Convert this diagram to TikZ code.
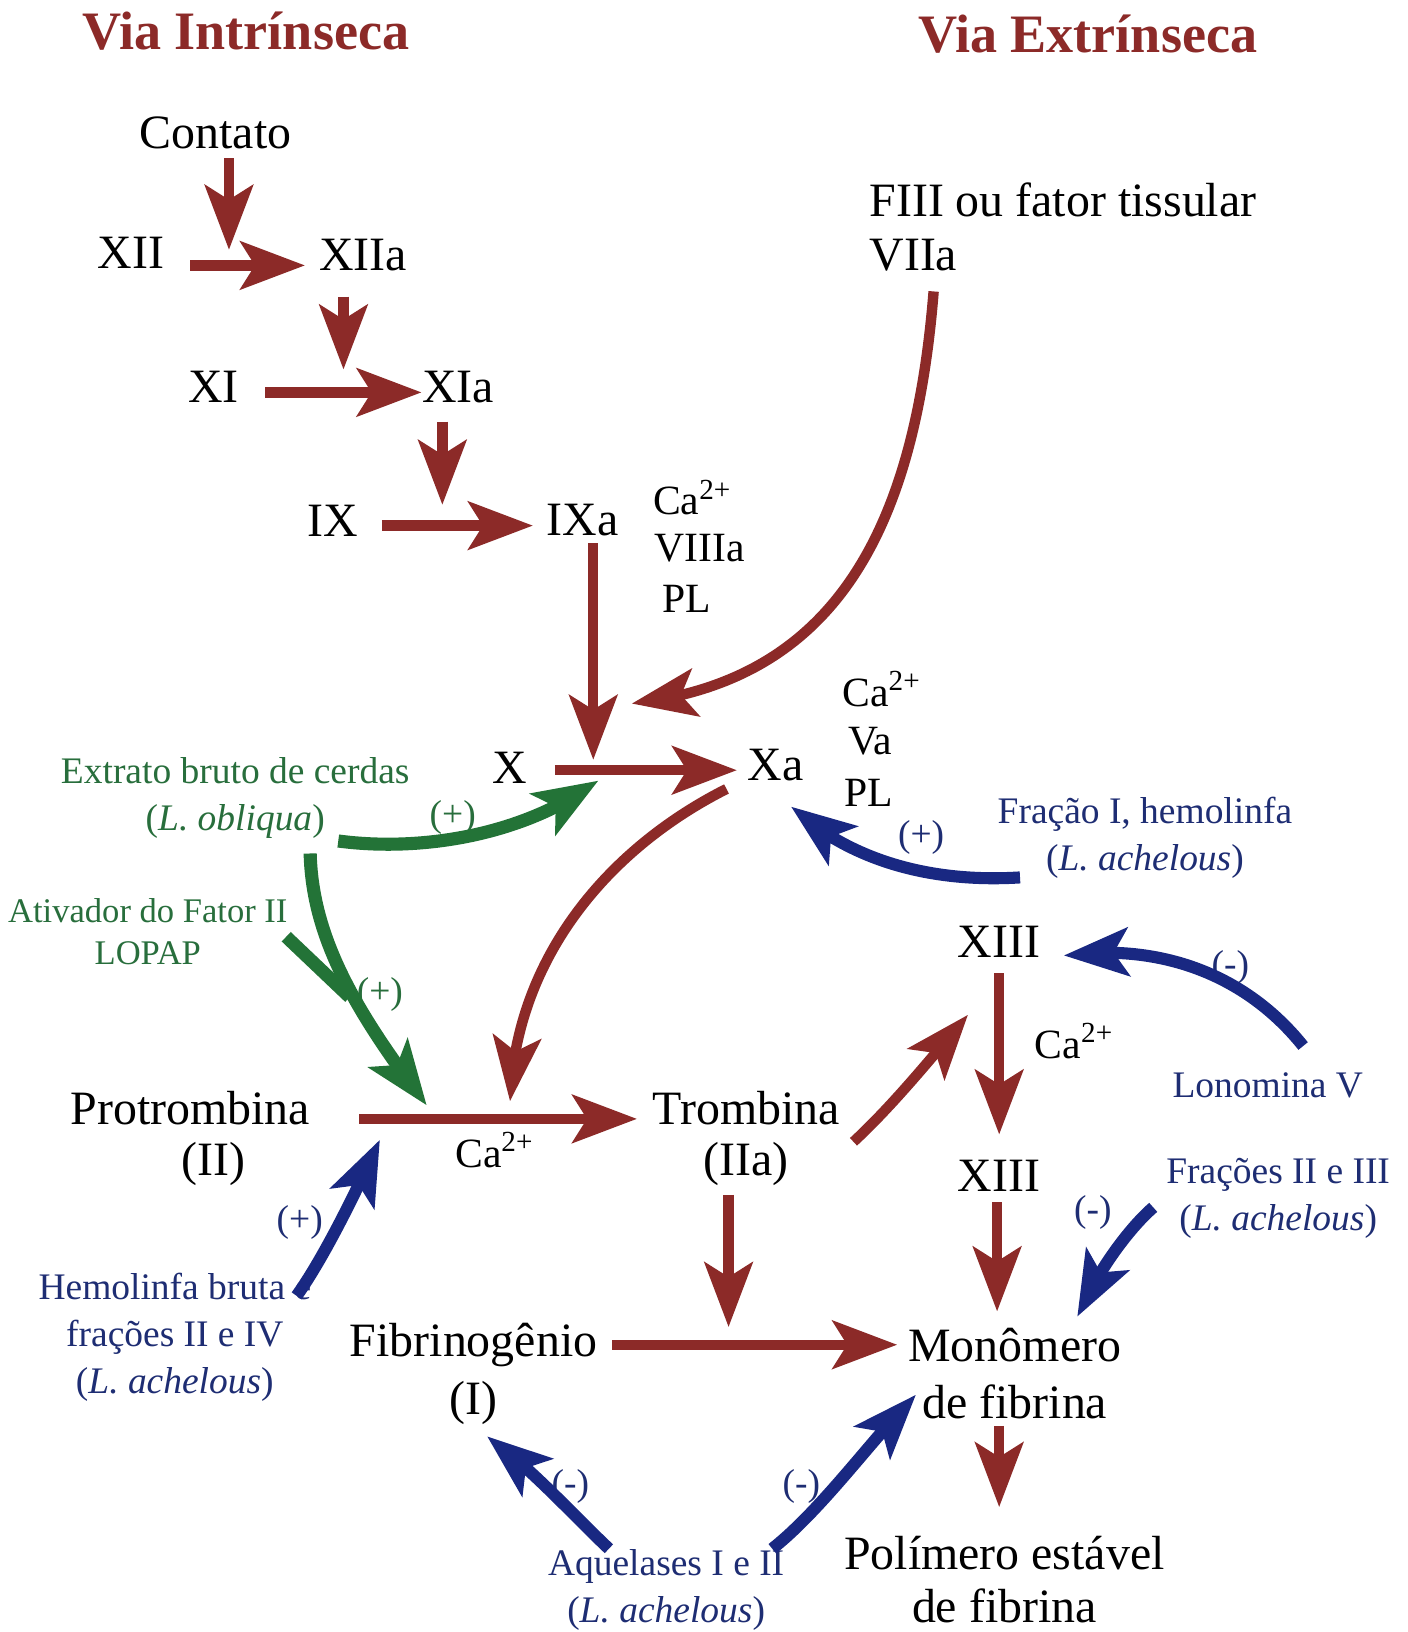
\documentclass[tikz,border=0pt]{standalone}
\usepackage{fontspec}
\setmainfont{Liberation Serif}
\usetikzlibrary{arrows.meta,bending}
\definecolor{myred}{RGB}{140,42,40}
\definecolor{mygreen}{RGB}{35,115,55}
\definecolor{myblue}{RGB}{25,40,130}
\definecolor{gtext}{RGB}{40,110,60}
\definecolor{btext}{RGB}{30,45,115}
\begin{document}
\begin{tikzpicture}[x=0.5pt,y=-0.5pt,
  head/.style={-{Stealth[length=31pt,width=23pt,inset=7pt]}},
  ra/.style={draw=myred,line width=5pt,head},
  ga/.style={draw=mygreen,line width=6.3pt,head},
  ba/.style={draw=myblue,line width=5.8pt,head},
  mainn/.style={inner sep=0pt,font=\fontsize{23}{27}\selectfont},
  cof/.style={inner sep=0pt,font=\fontsize{20}{24}\selectfont},
  glab/.style={inner sep=0pt,text=gtext,align=center,font=\fontsize{18}{22.5}\selectfont},
  blab/.style={inner sep=0pt,text=btext,align=center,font=\fontsize{18}{22.5}\selectfont},
  ttl/.style={inner sep=0pt,text=myred,font=\fontsize{26}{30}\selectfont\bfseries},
]
\useasboundingbox (0,0) rectangle (1352,1568);
\fill[white] (0,0) rectangle (1352,1568);

% titles
\node[ttl] (t1) at (236,30) {Via Intrínseca};
\node[ttl] (t2) at (1045,33) {Via Extrínseca};

% intrinsic
\node[mainn] (contato) at (207,128) {Contato};
\node[mainn] (xii) at (126,243) {XII};
\node[mainn] (xiia) at (349,245) {XIIa};
\node[mainn] (xi) at (205,372) {XI};
\node[mainn] (xia) at (440,372) {XIa};
\node[mainn] (ix) at (320,500) {IX};
\node[mainn] (ixa) at (560,500) {IXa};
\node[cof] (ca1) at (665,478) {Ca\textsuperscript{2+}};
\node[cof] (viiia) at (672,527) {VIIIa};
\node[cof] (pl1) at (660,575) {PL};

% extrinsic
\node[mainn,anchor=west] (fiii) at (835,192) {FIII ou fator tissular};
\node[mainn,anchor=west] (viia) at (835,245) {VIIa};

\node[mainn] (x) at (490,738) {X};
\node[mainn] (xa) at (745,735) {Xa};
\node[cof] (ca2) at (847,662) {Ca\textsuperscript{2+}};
\node[cof] (va) at (836,712) {Va};
\node[cof] (pl2) at (835,762) {PL};

\node[mainn] (prot) at (183,1065) {Protrombina};
\node[mainn] (protii) at (205,1118) {(II)};
\node[cof] (ca3) at (475,1105) {Ca\textsuperscript{2+}};
\node[mainn] (trom) at (717,1065) {Trombina};
\node[mainn] (tromii) at (717,1118) {(IIa)};

\node[mainn] (xiii1) at (960,905) {XIII};
\node[cof] (ca4) at (1032,1000) {Ca\textsuperscript{2+}};
\node[mainn] (xiii2) at (960,1130) {XIII};

\node[mainn] (fibr) at (455,1292) {Fibrinogênio};
\node[mainn] (fibri) at (455,1348) {(I)};
\node[mainn] (mono) at (975,1292) {Monômero};
\node[mainn] (monob) at (975,1347) {de fibrina};
\node[mainn] (poli) at (965,1492) {Polímero estável};
\node[mainn] (polib) at (965,1543) {de fibrina};

% green labels
\node[glab] (extr) at (226,767) {Extrato bruto de cerdas\\(\textit{L. obliqua})};
\node[glab,font=\fontsize{16.6}{20.5}\selectfont] (ativ) at (142,895) {Ativador do Fator II\\LOPAP};
\node[glab] (gp1) at (435,785) {(+)};
\node[glab] (gp2) at (365,955) {(+)};

% blue labels
\node[blab] (frac1) at (1100,805) {Fração I, hemolinfa\\(\textit{L. achelous})};
\node[blab] (bp1) at (885,805) {(+)};
\node[blab] (lono) at (1218,1043) {Lonomina V};
\node[blab] (bm1) at (1182,930) {(-)};
\node[blab] (frac23) at (1228,1151) {Frações II e III\\(\textit{L. achelous})};
\node[blab] (bm2) at (1050,1165) {(-)};
\node[blab] (hemo) at (168,1285) {Hemolinfa bruta e\\frações II e IV\\(\textit{L. achelous})};
\node[blab] (bp2) at (288,1175) {(+)};
\node[blab] (aque) at (640,1528) {Aquelases I e II\\(\textit{L. achelous})};
\node[blab] (bm3) at (548,1428) {(-)};
\node[blab] (bm4) at (770,1428) {(-)};

% coordinates for arrow ends
\coordinate (a1s) at (220,152);  \coordinate (a1e) at (220,240);
\coordinate (a2s) at (183,255);  \coordinate (a2e) at (293,255);
\coordinate (a3s) at (330,285);  \coordinate (a3e) at (330,355);
\coordinate (a4s) at (255,377);  \coordinate (a4e) at (405,377);
\coordinate (a5s) at (425,405);  \coordinate (a5e) at (425,485);
\coordinate (a6s) at (367,505);  \coordinate (a6e) at (512,505);
\coordinate (a7s) at (570,522);  \coordinate (a7e) at (570,730);
\coordinate (a8s) at (533,740);  \coordinate (a8e) at (708,740);
\coordinate (vs) at (897,280);   \coordinate (ve) at (607,676);
\coordinate (xs) at (698,758);   \coordinate (xe) at (490,1058);
\coordinate (ps) at (345,1075);  \coordinate (pe) at (612,1075);
\coordinate (ts) at (820,1097);  \coordinate (te) at (930,975);
\coordinate (x1s) at (960,935);  \coordinate (x1e) at (960,1090);
\coordinate (x2s) at (958,1155); \coordinate (x2e) at (958,1260);
\coordinate (ius) at (700,1148); \coordinate (iue) at (700,1275);
\coordinate (fs) at (588,1292);  \coordinate (fe) at (862,1292);
\coordinate (ms) at (960,1370);  \coordinate (me) at (960,1448);
\coordinate (g1s) at (325,808);  \coordinate (g1e) at (575,750);
\coordinate (g2s) at (298,820);  \coordinate (g2e) at (410,1062);
\coordinate (g3s) at (275,900);  \coordinate (g3e) at (336,958);
\coordinate (b1s) at (980,843);  \coordinate (b1e) at (760,775);
\coordinate (b2s) at (1252,1005);\coordinate (b2e) at (1022,918);
\coordinate (b3s) at (1108,1160);\coordinate (b3e) at (1035,1265);
\coordinate (b4s) at (285,1245); \coordinate (b4e) at (365,1095);
\coordinate (b5s) at (585,1488); \coordinate (b5e) at (468,1380);
\coordinate (b6s) at (742,1488); \coordinate (b6e) at (880,1340);

% red arrows
\draw[ra] (a1s) -- (a1e);
\draw[ra] (a2s) -- (a2e);
\draw[ra] (a3s) -- (a3e);
\draw[ra] (a4s) -- (a4e);
\draw[ra] (a5s) -- (a5e);
\draw[ra] (a6s) -- (a6e);
\draw[ra] (a7s) -- (a7e);
\draw[ra] (a8s) -- (a8e);
\draw[ra] (vs) .. controls (878,520) and (795,655) .. (ve);
\draw[ra] (xs) .. controls (585,815) and (495,920) .. (xe);
\draw[ra] (ps) -- (pe);
\draw[ra] (ts) .. controls (860,1060) and (900,1010) .. (te);
\draw[ra] (x1s) -- (x1e);
\draw[ra] (x2s) -- (x2e);
\draw[ra] (ius) -- (iue);
\draw[ra] (fs) -- (fe);
\draw[ra] (ms) -- (me);

% green arrows
\draw[ga] (g1s) .. controls (400,818) and (500,805) .. (g1e);
\draw[ga] (g2s) .. controls (300,900) and (340,970) .. (g2e);
\draw[draw=mygreen,line width=6.3pt] (g3s) -- (g3e);

% blue arrows
\draw[ba] (b1s) .. controls (900,848) and (820,830) .. (b1e);
\draw[ba] (b2s) .. controls (1200,940) and (1120,905) .. (b2e);
\draw[ba] (b3s) .. controls (1085,1180) and (1055,1220) .. (b3e);
\draw[ba] (b4s) .. controls (310,1210) and (340,1150) .. (b4e);
\draw[ba] (b5s) .. controls (550,1455) and (510,1410) .. (b5e);
\draw[ba] (b6s) .. controls (790,1450) and (840,1380) .. (b6e);
\end{tikzpicture}
\end{document}
